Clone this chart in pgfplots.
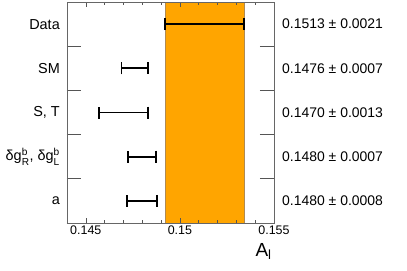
\documentclass[border=0pt]{standalone}
\usepackage{amsmath}
\usepackage{fontspec}
\setmainfont{Liberation Sans}
\usepackage{pgfplots}
\pgfplotsset{compat=1.18}
\definecolor{bandorange}{HTML}{FFA500}
\definecolor{bandedge}{HTML}{B08A50}
\definecolor{tickgray}{HTML}{555555}
\begin{document}
\begin{tikzpicture}
\begin{axis}[
  scale only axis,
  width=207bp, height=221bp,
  at={(0,0)}, anchor=south west,
  xmin=0.144, xmax=0.155,
  ymin=-0.5, ymax=4.5,
  axis on top,
  axis line style={draw=gray!80!black, line width=0.8pt},
  xtick={0.145,0.15,0.155},
  xticklabels={0.145,0.15,0.155},
  minor xtick={0.144,0.146,0.147,0.148,0.149,0.151,0.152,0.153,0.154},
  minor tick length=3bp,
  x tick style={/pgfplots/major tick length=5bp, draw=tickgray, line width=0.6pt},
  ytick={0.5,1.5,2.5,3.5},
  yticklabels={},
  y tick style={/pgfplots/major tick length=14bp, draw=tickgray, line width=1pt},
  xticklabel style={font=\fontsize{12.5}{14}\selectfont, yshift=1bp},
  /pgf/number format/assume math mode=true,
  tick align=inside,
  xlabel={A$_{\text{l}}$},
  xlabel style={at={(axis description cs:0.95,-0.075)}, anchor=north, font=\fontsize{19}{21}\selectfont},
  clip=false,
]
% band
\addplot[fill=bandorange, draw=bandedge, line width=0.6pt] coordinates {(0.1492,-0.5) (0.1534,-0.5) (0.1534,4.5) (0.1492,4.5)} -- cycle;
% error bars
\addplot[draw=none, mark=none,
  error bars/.cd, x dir=both, x explicit,
  error bar style={line width=1.8pt, black},
  error mark options={rotate=90, mark size=6bp, line width=1.8pt, black}]
  coordinates {
  (0.1513,4) +- (0.0021,0)
  (0.1476,3) +- (0.0007,0)
  (0.1470,2) +- (0.0013,0)
  (0.1480,1) +- (0.00075,0)
  (0.1480,0) +- (0.0008,0)
  };
% row separator segments (backup for the y ticks)
\addplot[tickgray, line width=1pt, mark=none, forget plot] coordinates {(0.144,0.5) (0.14475,0.5)};
\addplot[tickgray, line width=1pt, mark=none, forget plot] coordinates {(0.144,1.5) (0.14475,1.5)};
\addplot[tickgray, line width=1pt, mark=none, forget plot] coordinates {(0.144,2.5) (0.14475,2.5)};
\addplot[tickgray, line width=1pt, mark=none, forget plot] coordinates {(0.144,3.5) (0.14475,3.5)};
\addplot[tickgray, line width=1pt, mark=none, forget plot] coordinates {(0.15425,0.5) (0.155,0.5)};
\addplot[tickgray, line width=1pt, mark=none, forget plot] coordinates {(0.15425,1.5) (0.155,1.5)};
\addplot[tickgray, line width=1pt, mark=none, forget plot] coordinates {(0.15425,2.5) (0.155,2.5)};
\addplot[tickgray, line width=1pt, mark=none, forget plot] coordinates {(0.15425,3.5) (0.155,3.5)};
% right/bottom axis lines darker
\draw[black, line width=0.6pt] (rel axis cs:1,0) -- (rel axis cs:1,1);
\draw[black, line width=0.6pt] (rel axis cs:0,0) -- (rel axis cs:1,0);
% category names (left)
\begin{scope}[every node/.style={anchor=east, font=\fontsize{14.5}{16}\selectfont, inner sep=0pt}]
\node at ([xshift=-7bp]axis cs:0.144,4) {Data};
\node at ([xshift=-7bp]axis cs:0.144,3) {SM};
\node at ([xshift=-7bp]axis cs:0.144,2) {S, T};
\node at ([xshift=-7bp]axis cs:0.144,1) {δg$^{\text{b}}_{\text{R}}$, δg$^{\text{b}}_{\text{L}}$};
\node at ([xshift=-7bp]axis cs:0.144,0) {a};
\end{scope}
% values (right)
\begin{scope}[every node/.style={anchor=west, font=\fontsize{14}{16}\selectfont, inner sep=0pt}]
\node at ([xshift=8bp]axis cs:0.155,4) {0.1513 ± 0.0021};
\node at ([xshift=8bp]axis cs:0.155,3) {0.1476 ± 0.0007};
\node at ([xshift=8bp]axis cs:0.155,2) {0.1470 ± 0.0013};
\node at ([xshift=8bp]axis cs:0.155,1) {0.1480 ± 0.0007};
\node at ([xshift=8bp]axis cs:0.155,0) {0.1480 ± 0.0008};
\end{scope}
\end{axis}
\useasboundingbox (-67bp,-48bp) rectangle (340bp,223bp);
\end{tikzpicture}
\end{document}
